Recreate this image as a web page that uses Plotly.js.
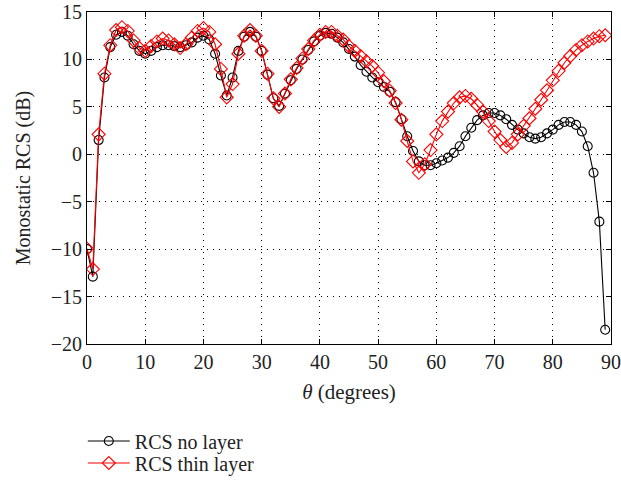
<!DOCTYPE html>
<html>
<head>
<meta charset="utf-8">
<script src="https://cdn.plot.ly/plotly-3.0.1.min.js"></script>
<style>html,body{margin:0;padding:0;background:#fff;}#chart{width:621px;height:481px;}</style>
</head>
<body>
<div id="chart"></div>
<script>
var theta = [0,1,2,3,4,5,6,7,8,9,10,11,12,13,14,15,16,17,18,19,20,21,22,23,24,25,26,27,28,29,30,31,32,33,34,35,36,37,38,39,40,41,42,43,44,45,46,47,48,49,50,51,52,53,54,55,56,57,58,59,60,61,62,63,64,65,66,67,68,69,70,71,72,73,74,75,76,77,78,79,80,81,82,83,84,85,86,87,88,89];
var rcsNoLayer = [-10.0,-12.9,1.5,8.1,11.3,12.6,12.9,12.5,11.6,10.9,
  10.6,10.9,11.3,11.5,11.5,11.4,11.3,11.5,11.8,12.3,
  12.5,12.1,10.6,8.3,6.2,8.1,10.9,12.4,12.9,12.4,
  10.9,8.4,5.9,5.1,6.4,7.8,9.0,10.0,11.0,11.9,
  12.5,12.8,12.7,12.3,11.8,11.1,10.3,9.4,8.7,8.1,
  7.6,7.1,6.6,5.5,3.7,1.9,0.35,-0.75,-1.15,-1.15,
  -0.95,-0.65,-0.35,0.15,0.85,1.9,2.8,3.6,4.1,4.35,
  4.35,4.1,3.7,3.1,2.6,2.2,1.8,1.65,1.8,2.2,
  2.6,3.1,3.4,3.4,3.1,2.4,0.85,-1.95,-7.1,-18.5];
var rcsThinLayer = [-9.95,-12.1,2.1,8.5,11.5,13.1,13.4,13.0,12.0,11.2,
  10.9,11.4,11.9,12.2,12.0,11.6,11.2,11.6,12.3,13.0,
  13.3,12.9,11.6,9.0,6.0,7.4,10.6,12.5,13.1,12.5,
  10.9,8.5,5.9,5.0,6.4,7.9,9.1,10.1,11.1,12.0,
  12.6,12.9,12.9,12.5,12.1,11.4,10.9,10.35,9.8,9.3,
  8.6,7.7,6.7,5.4,3.65,1.4,-0.75,-1.95,-1.05,0.45,
  2.1,3.5,4.5,5.4,6.0,6.15,5.85,5.2,4.5,3.5,
  2.4,1.5,0.77,1.2,2.1,3.0,3.8,4.8,5.75,6.75,
  7.8,8.8,9.65,10.35,11.0,11.5,11.9,12.2,12.45,12.55];
var xTicks = [0,10,20,30,40,50,60,70,80,90];
var yTicks = [-20,-15,-10,-5,0,5,10,15];

var font = "'Liberation Serif', 'Times New Roman', serif";
var traces = [
  {x: theta, y: rcsNoLayer, name: 'RCS no layer', type: 'scatter', mode: 'lines+markers', legend: 'legend',
   line: {color: '#000000', width: 1.1},
   marker: {symbol: 'circle-open', size: 9, color: '#000000', line: {width: 1.1, color: '#000000'}}},
  {x: theta, y: rcsThinLayer, name: 'RCS thin layer', type: 'scatter', mode: 'lines+markers', legend: 'legend2',
   line: {color: '#ff0000', width: 1.1},
   marker: {symbol: 'diamond-open', size: 10, color: '#ff0000', line: {width: 1.1, color: '#ff0000'}}}
];
var axisCommon = {
  showline: true, linecolor: '#000', linewidth: 1, mirror: 'ticks',
  ticks: 'inside', ticklen: 5, tickcolor: '#000', tickwidth: 1,
  showgrid: true, gridcolor: '#000', gridwidth: 1, griddash: '1px,5px',
  zeroline: false, automargin: false, ticklabeloverflow: 'allow',
  tickfont: {family: font, size: 20, color: '#222'}
};
var legendCommon = {xanchor: 'left', yanchor: 'middle', x: -0.008, yref: 'container',
  font: {family: font, size: 20, color: '#222'}, bgcolor: 'rgba(0,0,0,0)',
  itemwidth: 42, borderwidth: 0};
var layout = {
  width: 621, height: 481,
  margin: {l: 87, r: 10, t: 12, b: 137},
  paper_bgcolor: '#fff', plot_bgcolor: '#fff',
  showlegend: true,
  legend: Object.assign({}, legendCommon, {y: 0.0832}),
  legend2: Object.assign({}, legendCommon, {y: 0.0374}),
  xaxis: Object.assign({}, axisCommon, {range: [0, 90], tickvals: xTicks,
    title: {text: '<i>θ</i> (degrees)', font: {family: font, size: 21, color: '#222'}, standoff: 12}}),
  yaxis: Object.assign({}, axisCommon, {range: [-20, 15], tickvals: yTicks,
    title: {text: 'Monostatic RCS (dB)', font: {family: font, size: 20, color: '#222'}, standoff: 14}})
};
Plotly.newPlot('chart', traces, layout, {displayModeBar: false, staticPlot: true});
</script>
</body>
</html>
